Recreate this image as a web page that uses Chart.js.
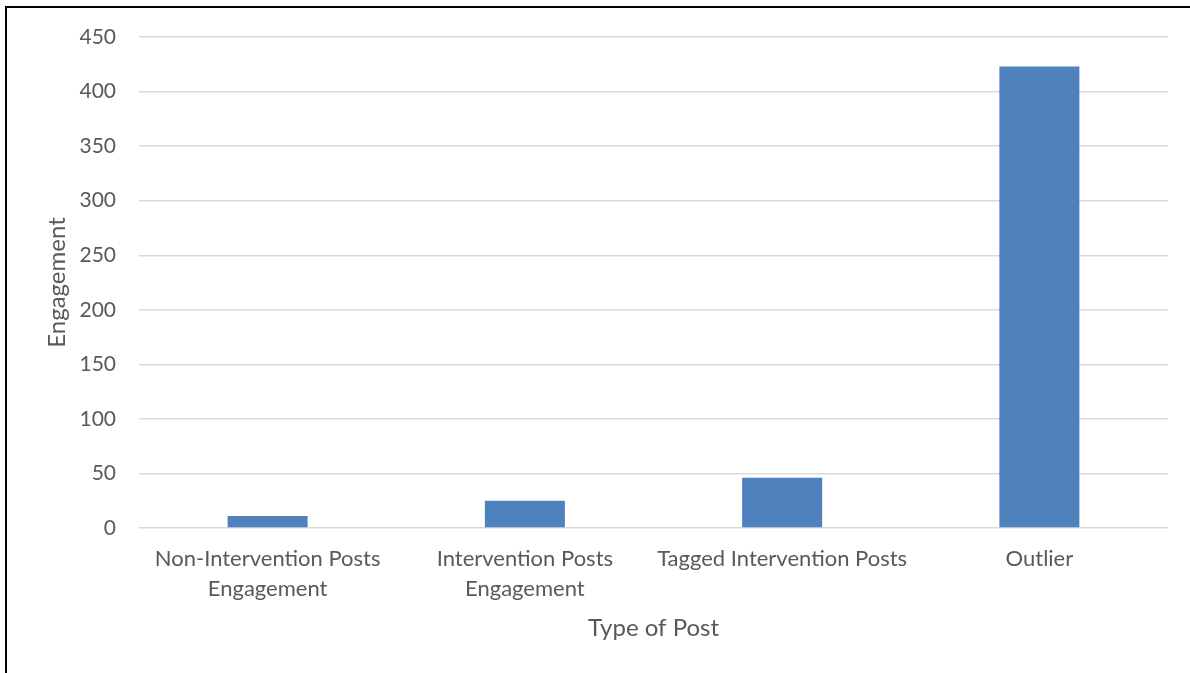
<!DOCTYPE html>
<html>
<head>
<meta charset="utf-8">
<script src="https://cdn.jsdelivr.net/npm/chart.js@4"></script>
<style>
    html, body { margin: 0; padding: 0; background: #fff; overflow: hidden; }
    #wrap { position: relative; width: 1190px; height: 673px; }
    #frame {
        position: absolute; left: 5px; top: 6px; width: 1200px; height: 700px;
        border-left: 2px solid #000; border-top: 2px solid #000;
    }
    canvas { position: absolute; left: 0; top: 0; }
</style>
</head>
<body>
<div id="wrap">
    <div id="frame"></div>
    <canvas id="chart" width="1190" height="673"></canvas>
</div>
<script>
/* === DATA === */
const categories = [
    ['Non-Intervention Posts', 'Engagement'],
    ['Intervention Posts', 'Engagement'],
    'Tagged Intervention Posts',
    'Outlier'
];
const engagementValues = [11, 25, 46, 423];
const yTicks = [0, 50, 100, 150, 200, 250, 300, 350, 400, 450];

const textColor = '#595959';
const fontFamily = 'Lato, "Open Sans", sans-serif';

const ctx = document.getElementById('chart').getContext('2d');
const chart = new Chart(ctx, {
    type: 'bar',
    data: {
        labels: categories,
        datasets: [{
            label: 'Engagement',
            data: engagementValues,
            backgroundColor: '#4f81bd',
            borderWidth: 0,
            barPercentage: 0.311,
            categoryPercentage: 1
        }]
    },
    options: {
        responsive: false,
        animation: false,
        devicePixelRatio: 1,
        layout: { padding: { left: 43, right: 22, top: 37, bottom: 0 } },
        plugins: { legend: { display: false }, tooltip: { enabled: false } },
        scales: {
            x: {
                grid: { display: false },
                border: { display: false },
                ticks: {
                    color: textColor,
                    padding: 8,
                    maxRotation: 0,
                    autoSkip: false,
                    font: { family: fontFamily, size: 22, lineHeight: 1.364 }
                },
                title: {
                    display: true,
                    text: 'Type of Post',
                    color: textColor,
                    padding: { top: 0, bottom: 30 },
                    font: { family: fontFamily, size: 24, lineHeight: 1.2 }
                },
                afterFit: s => { s.height = 145; }
            },
            y: {
                min: 0,
                max: 450,
                grid: { color: '#d9d9d9', lineWidth: 1.4, drawTicks: false },
                border: { display: false },
                afterBuildTicks: s => { s.ticks = yTicks.map(v => ({ value: v })); },
                ticks: {
                    color: textColor,
                    padding: 23,
                    font: { family: fontFamily, size: 21 }
                },
                title: {
                    display: true,
                    text: 'Engagement',
                    color: textColor,
                    padding: { top: 0, bottom: 0 },
                    font: { family: fontFamily, size: 24, lineHeight: 1.2 }
                },
                afterFit: s => { s.width = 96; }
            }
        }
    }
});
</script>
</body>
</html>
